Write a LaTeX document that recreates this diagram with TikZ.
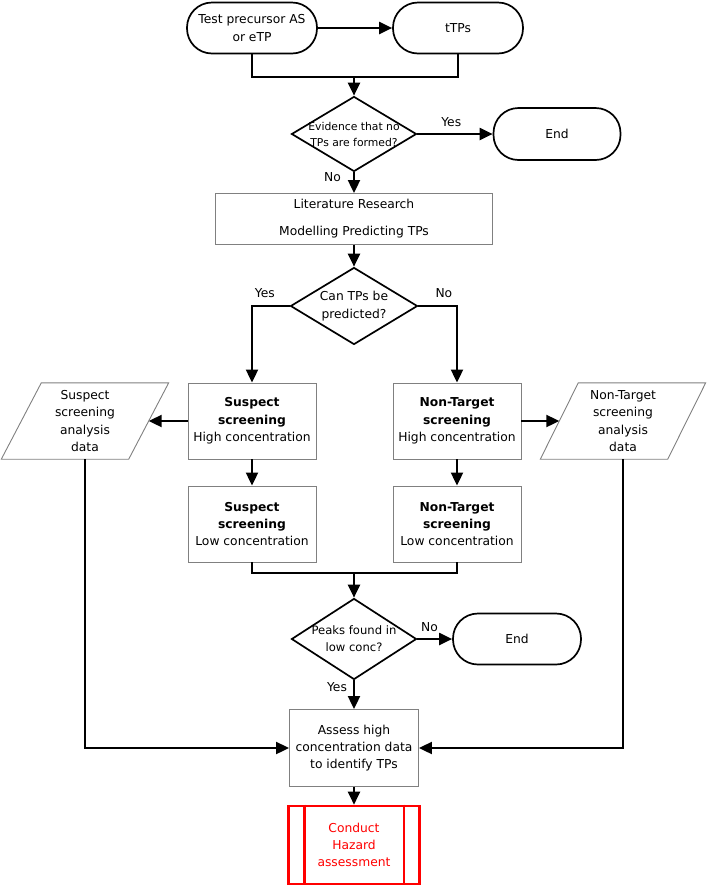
\documentclass[tikz,border=0pt]{standalone}
\usepackage{fontspec}
\setmainfont{DejaVu Sans}
\usetikzlibrary{arrows.meta,shapes.geometric}
\begin{document}
\begin{tikzpicture}[x=1pt,y=-1pt,
  font=\fontsize{12.3}{17.3}\selectfont,
  term/.style={draw, line width=1.7pt, rounded corners=25pt, minimum width=130pt, minimum height=51pt, inner sep=0pt, align=center},
  dec/.style={draw, diamond, line width=1.7pt, inner sep=0pt, minimum width=125pt, minimum height=75pt},
  proc/.style={draw=gray, line width=0.9pt, minimum width=128pt, minimum height=76pt, inner sep=0pt, align=center},
  para/.style={minimum width=127pt, minimum height=76pt, inner sep=0pt, align=center},
  parashape/.style={draw=gray, line width=0.9pt},
  haz/.style={draw=red, line width=2.6pt, text=red, minimum width=131pt, minimum height=78pt, inner sep=0pt, align=center},
  arr/.style={line width=2.1pt, -{Triangle[length=13pt,width=12pt]}},
  ln/.style={line width=2.1pt},
  lbl/.style={font=\fontsize{12.3}{14}\selectfont, inner sep=0pt},
  dtext/.style={align=center}
]
\useasboundingbox (0,0) rectangle (709,887);

\node[term] (src) at (252,28) {Test precursor AS\\or eTP};
\node[term] (ttp) at (458,28) {tTPs};
\coordinate (j1) at (354,77);
\node[dec, label={[dtext, font=\fontsize{10.8}{16}\selectfont]center:Evidence that no\\TPs are formed?}] (d1) at (354,134) {};
\node[term, minimum width=127pt, minimum height=52pt] (end1) at (557,134) {End};
\node[proc, minimum width=277pt, minimum height=51pt] (lit) at (354,219) {Literature Research\\[9.5pt]Modelling Predicting TPs};
\node[dec, minimum width=127pt, minimum height=77pt, label={[dtext, font=\fontsize{12.3}{18}\selectfont]center:Can TPs be\\predicted?}] (d2) at (354,306) {};

\node[proc] (sh) at (252,421) {\textbf{Suspect}\\\textbf{screening}\\High concentration};
\node[proc] (sl) at (252,524) {\textbf{Suspect}\\\textbf{screening}\\Low concentration};
\node[proc] (nh) at (457,421) {\textbf{Non-Target}\\\textbf{screening}\\High concentration};
\node[proc] (nl) at (457,524) {\textbf{Non-Target}\\\textbf{screening}\\Low concentration};

\node[para] (sd) at (85,421) {Suspect\\screening\\analysis\\data};
\draw[parashape] ([xshift=20pt]sd.north west) -- ([xshift=20pt]sd.north east) -- ([xshift=-20pt]sd.south east) -- ([xshift=-20pt]sd.south west) -- cycle;
\node[para] (nd) at (623,421) {Non-Target\\screening\\analysis\\data};
\draw[parashape] ([xshift=19pt]nd.north west) -- ([xshift=19pt]nd.north east) -- ([xshift=-19pt]nd.south east) -- ([xshift=-19pt]nd.south west) -- cycle;

\coordinate (m) at (354,573);
\node[dec, minimum width=125pt, minimum height=81pt, label={[dtext, font=\fontsize{11.6}{17}\selectfont]center:Peaks found in\\low conc?}] (d3) at (354,639) {};
\node[term, minimum width=128pt, minimum height=51pt] (end2) at (517,639) {End};
\node[proc, minimum width=129pt, minimum height=77pt] (as) at (354,748) {Assess high\\concentration data\\to identify TPs};
\node[haz] (hz) at (354,845) {Conduct\\Hazard\\assessment};
\draw[red, line width=2.6pt] ([xshift=17pt]hz.north west) -- ([xshift=17pt]hz.south west);
\draw[red, line width=2.6pt] ([xshift=-17pt]hz.north east) -- ([xshift=-17pt]hz.south east);

% connectors
\draw[arr] (src.east) -- (ttp.west);
\draw[ln] (src.south) |- (j1);
\draw[ln] (ttp.south) |- (j1);
\draw[arr] (j1) -- (d1.north);
\draw[arr] (d1.east) -- (end1.west) node[lbl, pos=0.45, above=6pt] {Yes};
\draw[arr] (d1.south) -- (lit.north) node[lbl, pos=0.25, left=12pt] {No};
\draw[arr] (lit.south) -- (d2.north);
\draw[arr] (d2.west) -| (sh.north) node[lbl, pos=0.33, above=7pt] {Yes};
\draw[arr] (d2.east) -| (nh.north) node[lbl, pos=0.33, above=7pt] {No};
\draw[arr] (sh.west) -- (sd.east);
\draw[arr] (nh.east) -- (nd.west);
\draw[arr] (sh.south) -- (sl.north);
\draw[arr] (nh.south) -- (nl.north);
\draw[ln] (sl.south) |- (m);
\draw[ln] (nl.south) |- (m);
\draw[arr] (m) -- (d3.north);
\draw[arr] (d3.east) -- (end2.west) node[lbl, pos=0.35, above=6pt] {No};
\draw[arr] (d3.south) -- (as.north) node[lbl, pos=0.25, left=6pt] {Yes};
\draw[arr] (sd.south) |- (as.west);
\draw[arr] (nd.south) |- (as.east);
\draw[arr] (as.south) -- (hz.north);
\end{tikzpicture}
\end{document}
